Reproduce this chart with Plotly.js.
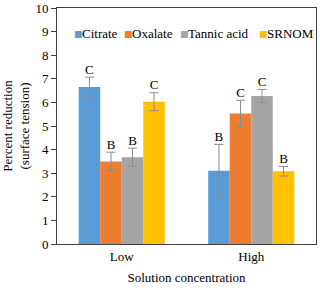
<!DOCTYPE html>
<html><head><meta charset="utf-8">
<script src="https://cdn.plot.ly/plotly-3.0.1.min.js"></script>
<style>html,body{margin:0;padding:0;background:#fff}</style>
</head><body>
<div id="chart" style="width:320px;height:290px"></div>
<script>
const categories = ['Low', 'High'];
const seriesNames = ['Citrate', 'Oxalate', 'Tannic acid', 'SRNOM'];
const citrate = [6.65, 3.1];
const oxalate = [3.5, 5.53];
const tannic = [3.68, 6.27];
const srnom = [6.03, 3.08];
const citrateErr = [0.42, 1.12];
const oxalateErr = [0.39, 0.56];
const tannicErr = [0.38, 0.28];
const srnomErr = [0.38, 0.2];
const citrateLetters = ['C', 'B'];
const oxalateLetters = ['B', 'C'];
const tannicLetters = ['B', 'C'];
const srnomLetters = ['C', 'B'];
const colors = ['#5B9BD5', '#ED7D31', '#A5A5A5', '#FFC000'];

const values = [citrate, oxalate, tannic, srnom];
const errs = [citrateErr, oxalateErr, tannicErr, srnomErr];
const letters = [citrateLetters, oxalateLetters, tannicLetters, srnomLetters];
const FONT = 'Liberation Serif';
const bargap = 0.335;
const xIdx = categories.map((c, i) => i);
const nS = seriesNames.length;
const w = (1 - bargap) / nS;

const traces = [];
values.forEach((v, j) => {
  traces.push({
    type: 'bar', name: seriesNames[j], x: xIdx, y: v,
    marker: {color: colors[j]},
    error_y: {type: 'data', array: errs[j], visible: true, color: '#8C8C8C', thickness: 1, width: 4.5},
    showlegend: false, hoverinfo: 'skip'
  });
});
values.forEach((v, j) => {
  traces.push({
    type: 'scatter', mode: 'text',
    x: xIdx.map(i => i + (j - (nS - 1) / 2) * w),
    y: v.map((val, i) => val + errs[j][i]),
    text: letters[j], textposition: 'top center',
    textfont: {family: FONT, size: 13, color: '#000'},
    showlegend: false, hoverinfo: 'skip', cliponaxis: false
  });
});

// legend: colored square marker annotation + name annotation
const legendX = [0.058, 0.25, 0.467, 0.772];
const annotations = [];
seriesNames.forEach((n, j) => {
  annotations.push({
    xref: 'paper', yref: 'paper', x: legendX[j], y: 0.89,
    xanchor: 'left', yanchor: 'middle', showarrow: false,
    text: '■', font: {family: 'DejaVu Sans', size: 9, color: colors[j]}
  });
  annotations.push({
    xref: 'paper', yref: 'paper', x: legendX[j], xshift: 8, y: 0.89,
    xanchor: 'left', yanchor: 'middle', showarrow: false,
    text: n, font: {family: FONT, size: 13, color: '#000'}
  });
});

const layout = {
  width: 320, height: 290,
  margin: {l: 57, r: 4, t: 8, b: 46},
  paper_bgcolor: '#fff', plot_bgcolor: '#fff',
  barmode: 'group', bargap: bargap, bargroupgap: 0,
  font: {family: FONT, size: 13, color: '#000'},
  xaxis: {
    range: [-0.5, categories.length - 0.5],
    tickvals: xIdx, ticktext: categories,
    showgrid: false, zeroline: false, ticks: '',
    showline: true, linecolor: '#404040', linewidth: 1, mirror: true,
    tickfont: {family: FONT, size: 13},
    title: {text: 'Solution concentration', font: {family: FONT, size: 13}, standoff: 10}
  },
  yaxis: {
    range: [0, 10], dtick: 1, tick0: 0,
    showgrid: false, zeroline: false, ticks: 'outside', ticklen: 5, tickcolor: '#404040',
    showline: true, linecolor: '#404040', linewidth: 1, mirror: true,
    tickfont: {family: FONT, size: 13},
    title: {text: 'Percent reduction<br>(surface tension)', font: {family: FONT, size: 13}, standoff: 8}
  },
  annotations: annotations
};
Plotly.newPlot('chart', traces, layout, {staticPlot: true, displayModeBar: false});
</script>
</body></html>
